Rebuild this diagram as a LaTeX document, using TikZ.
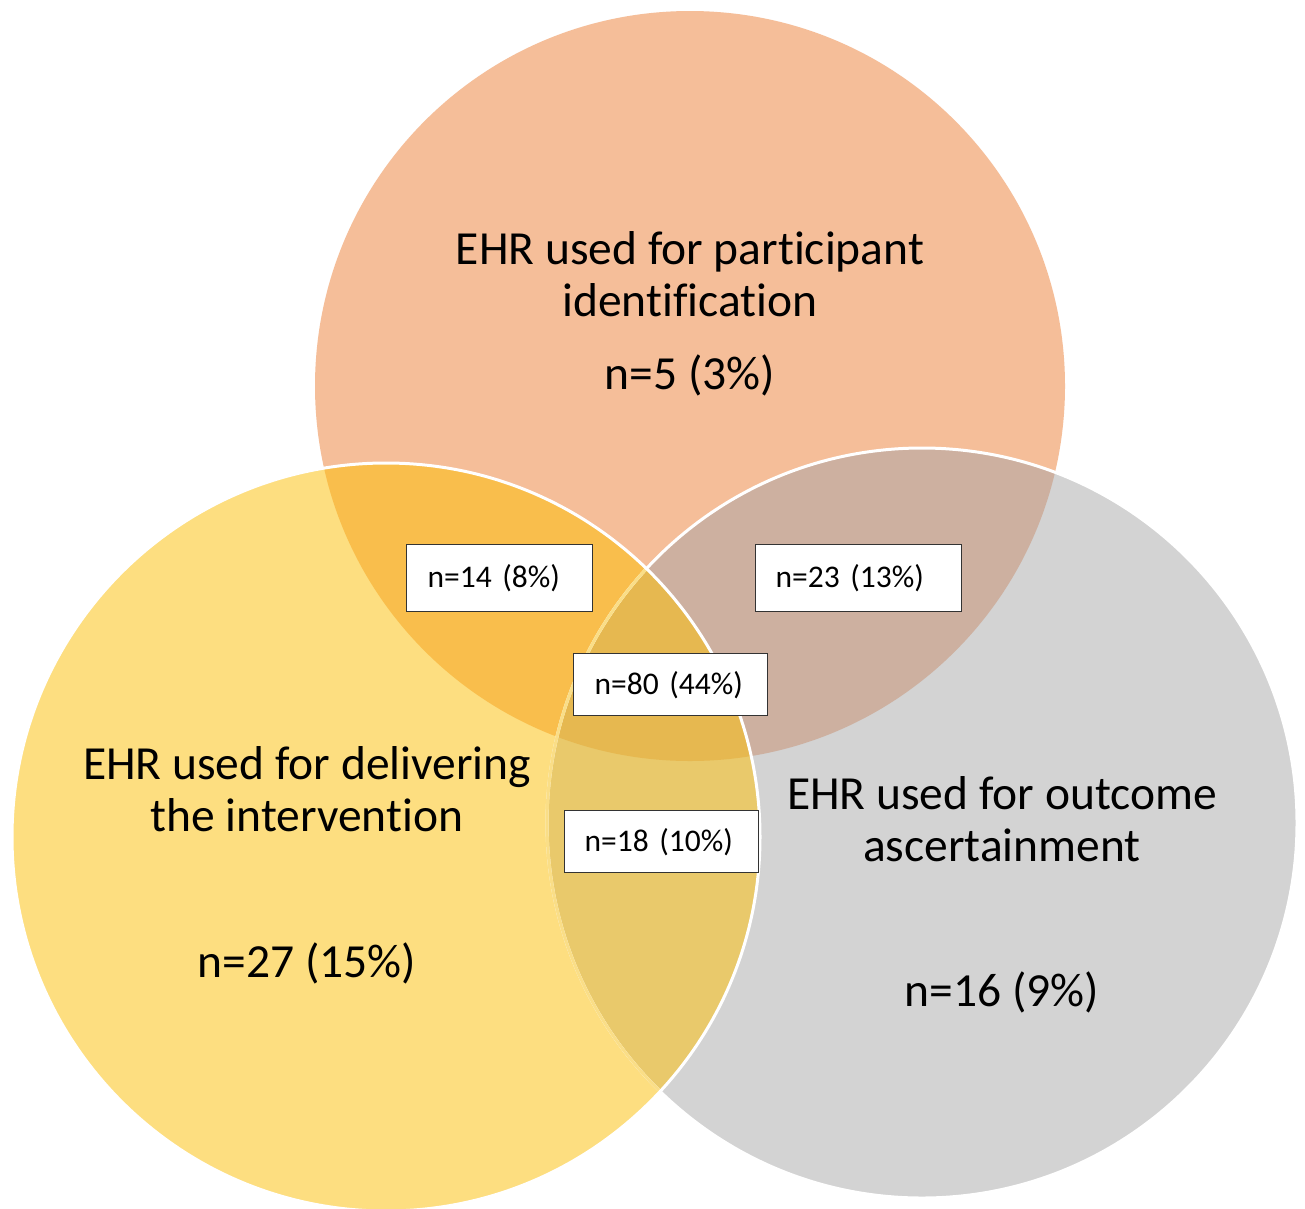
\documentclass[tikz,border=0pt]{standalone}
\usepackage{fontspec}
\setmainfont{Carlito}[RawFeature={-liga;-clig;-dlig;-calt;-rlig}]
\definecolor{cTop}{RGB}{245,190,153}
\definecolor{cLeft}{RGB}{253,222,128}
\definecolor{cRight}{RGB}{211,211,211}
\definecolor{cTL}{RGB}{249,190,76}
\definecolor{cTR}{RGB}{205,176,160}
\definecolor{cLR}{RGB}{233,201,107}
\definecolor{cAll}{RGB}{230,184,80}
\definecolor{cFaint}{RGB}{250,222,135}
\tikzset{
  bigtext/.style={align=center, font=\fontsize{47.5}{52}\selectfont, inner sep=0},
  smallbox/.style={draw=black!80, line width=1.3pt, fill=white, align=left,
    font=\fontsize{31.5}{36}\selectfont, inner ysep=0, minimum height=67, anchor=north west},
  outline/.style={draw=white, line width=3pt}
}
\begin{document}
\begin{tikzpicture}[x=1pt,y=-1pt]
\useasboundingbox (0,0) rectangle (1305,1208);
\fill[white] (0,0) rectangle (1305,1208);
% base circles
\fill[cTop] (690,386) circle[radius=375];
\fill[cRight] (922,823) circle[radius=375];
\fill[cLeft] (386,837) circle[radius=374];
% pairwise overlaps
\begin{scope}
  \clip (690,386) circle[radius=375];
  \fill[cTL] (386,837) circle[radius=374];
  \fill[cTR] (922,823) circle[radius=375];
\end{scope}
\begin{scope}
  \clip (386,837) circle[radius=374];
  \fill[cLR] (922,823) circle[radius=375];
  \clip (690,386) circle[radius=375];
  \fill[cAll] (922,823) circle[radius=375];
\end{scope}
% outlines
\draw[outline] (922,823) circle[radius=375];
\begin{scope}
  \clip (386,837) circle[radius=374];
  \draw[draw=cFaint, line width=3pt] (922,823) circle[radius=375];
\end{scope}
\draw[outline] (386,837) circle[radius=374];
% big labels
\node[bigtext] (tTop) at (690,274) {EHR used for participant\\identif\kern0pt ication};
\node[bigtext] (nTop) at (690,375) {n=5 (3\%)};
\node[bigtext] (tLeft) at (307,789) {EHR used for delivering\\the interven\kern0pt t\kern0pt ion};
\node[bigtext] (nLeft) at (307,963) {n=27 (15\%)};
\node[bigtext] (tRight) at (1002,819) {EHR used for outcome\\ascertainment};
\node[bigtext] (nRight) at (1002,992) {n=16 (9\%)};
% small boxes
\node[smallbox, inner xsep=21, text width=144] (bTL) at (406,544) {n=14 (8\%)};
\node[smallbox, inner xsep=20, text width=166] (bTR) at (755,544) {n=23 (13\%)};
\node[smallbox, inner xsep=21, text width=152, minimum height=62] (bAll) at (573,653) {n=80 (44\%)};
\node[smallbox, inner xsep=20, text width=154, minimum height=62] (bLR) at (564,810) {n=18 (10\%)};
\end{tikzpicture}
\end{document}
